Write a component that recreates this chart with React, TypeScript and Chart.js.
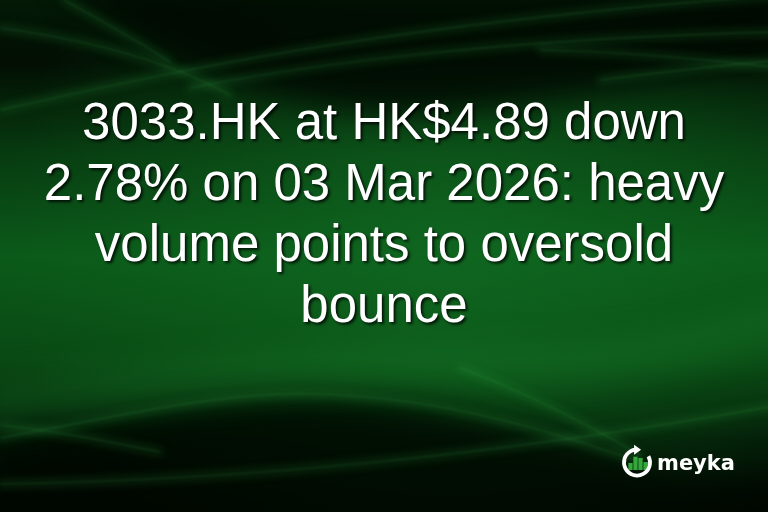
import { useEffect, useRef } from "react";
import {
    Chart,
    BarController,
    BarElement,
    CategoryScale,
    LinearScale,
    type ChartConfiguration,
    type Plugin,
} from "chart.js";

Chart.register(BarController, BarElement, CategoryScale, LinearScale);

// headline, one entry per rendered line
const titleLines = [
    "3033.HK at HK$4.89 down",
    "2.78% on 03 Mar 2026: heavy",
    "volume points to oversold",
    "bounce",
];

// little bars inside the logo ring
const logoBarLabels = ["b1", "b2", "b3", "b4"];
const logoBarValues = [0.5, 0.95, 0.86, 0.57];

const brandName = "meyka";

const W = 768;
const H = 512;

const curve = (ctx: CanvasRenderingContext2D, s: number[]) => {
    ctx.beginPath();
    ctx.moveTo(s[0], s[1]);
    for (let i = 2; i + 5 < s.length; i += 6) {
        ctx.bezierCurveTo(s[i], s[i + 1], s[i + 2], s[i + 3], s[i + 4], s[i + 5]);
    }
};

// green backdrop with soft swooshes
const drawBackdrop = (ctx: CanvasRenderingContext2D) => {
    const base = ctx.createLinearGradient(0, 0, 0, H);
    base.addColorStop(0, "#031a06");
    base.addColorStop(0.12, "#020e03");
    base.addColorStop(0.3, "#073b10");
    base.addColorStop(0.5, "#0b5a1a");
    base.addColorStop(0.7, "#094913");
    base.addColorStop(0.86, "#031806");
    base.addColorStop(1, "#010701");
    ctx.fillStyle = base;
    ctx.fillRect(0, 0, W, H);

    const glow = ctx.createRadialGradient(450, 240, 10, 450, 240, 440);
    glow.addColorStop(0, "rgba(18,112,36,0.55)");
    glow.addColorStop(1, "rgba(18,112,36,0)");
    ctx.fillStyle = glow;
    ctx.fillRect(0, 0, W, H);

    ctx.save();
    ctx.filter = "blur(16px)";
    // dark top swoosh
    ctx.fillStyle = "rgba(0,5,0,0.8)";
    curve(ctx, [60, -20, 150, 60, 300, 125, 450, 112, 560, 102, 680, 72, 790, 62]);
    ctx.lineTo(790, -20);
    ctx.closePath();
    ctx.fill();
    // dark bottom hump
    ctx.fillStyle = "rgba(0,6,0,0.8)";
    curve(ctx, [-20, 452, 120, 418, 220, 394, 310, 396, 420, 398, 520, 425, 640, 462, 700, 480, 760, 478, 790, 470]);
    ctx.lineTo(790, 540);
    ctx.lineTo(-20, 540);
    ctx.closePath();
    ctx.fill();
    // brighter band above the hump
    ctx.strokeStyle = "rgba(25,130,45,0.3)";
    ctx.lineWidth = 36;
    curve(ctx, [-20, 405, 150, 385, 320, 360, 500, 365, 620, 370, 700, 340, 790, 320]);
    ctx.stroke();
    ctx.restore();

    const streaks: number[][] = [
        [0, 110, 180, 70, 380, 25, 780, -5],
        [0, 28, 90, 40, 170, 62, 230, 95],
        [64, 0, 100, 20, 140, 42, 170, 62],
        [190, 88, 320, 62, 520, 38, 780, 32],
        [540, 50, 620, 52, 700, 58, 780, 68],
        [600, 80, 660, 72, 720, 66, 780, 60],
        [0, 438, 120, 416, 220, 392, 310, 394, 420, 396, 520, 420, 640, 462],
        [0, 484, 250, 480, 500, 455, 780, 405],
        [0, 425, 50, 430, 100, 440, 160, 452],
        [460, 368, 520, 390, 580, 420, 640, 455],
    ];
    ctx.save();
    ctx.lineCap = "round";
    streaks.forEach((s) => {
        ctx.filter = "blur(4px)";
        ctx.strokeStyle = "rgba(50,170,70,0.2)";
        ctx.lineWidth = 7;
        curve(ctx, s);
        ctx.stroke();
        ctx.filter = "blur(0.8px)";
        ctx.strokeStyle = "rgba(80,200,100,0.16)";
        ctx.lineWidth = 1.2;
        ctx.stroke();
    });
    ctx.restore();
};

const drawHeadline = (ctx: CanvasRenderingContext2D) => {
    ctx.save();
    ctx.font = '51px "Liberation Sans", Arial, sans-serif';
    ctx.textAlign = "center";
    ctx.textBaseline = "alphabetic";
    ctx.fillStyle = "#ffffff";
    ctx.shadowColor = "rgba(0,0,0,0.8)";
    ctx.shadowOffsetX = 2;
    ctx.shadowOffsetY = 2;
    ctx.shadowBlur = 3;
    titleLines.forEach((line, i) => {
        ctx.fillText(line, 384, 139 + i * 61);
    });
    ctx.restore();
};

const drawLogo = (ctx: CanvasRenderingContext2D) => {
    const cx = 637;
    const cy = 462.5;
    const r = 13;
    ctx.save();
    ctx.strokeStyle = "#ffffff";
    ctx.lineWidth = 3.8;
    ctx.beginPath();
    ctx.arc(cx, cy, r, -0.5, Math.PI * 2 - 1.72);
    ctx.stroke();
    // arrow head at the top of the ring
    const ax = cx + r * Math.cos(-1.72);
    const ay = cy + r * Math.sin(-1.72);
    ctx.fillStyle = "#ffffff";
    ctx.beginPath();
    ctx.moveTo(ax + 6, ay);
    ctx.lineTo(ax - 1, ay - 5);
    ctx.lineTo(ax - 1, ay + 5);
    ctx.closePath();
    ctx.fill();

    ctx.font = 'bold 21px "DejaVu Sans", Verdana, sans-serif';
    ctx.textAlign = "left";
    ctx.textBaseline = "alphabetic";
    ctx.fillText(brandName, 657, 470);
    ctx.restore();
};

const bannerPlugin: Plugin<"bar"> = {
    id: "bannerPlugin",
    beforeDraw: (chart) => {
        drawBackdrop(chart.ctx);
    },
    afterDraw: (chart) => {
        drawLogo(chart.ctx);
        drawHeadline(chart.ctx);
    },
};

const App = () => {
    const canvasRef = useRef<HTMLCanvasElement>(null);

    useEffect(() => {
        document.body.style.margin = "0";
        if (!canvasRef.current) return;

        const config: ChartConfiguration<"bar"> = {
            type: "bar",
            data: {
                labels: logoBarLabels,
                datasets: [
                    {
                        data: logoBarValues,
                        backgroundColor: "#35a83d",
                        borderWidth: 0,
                        categoryPercentage: 1,
                        barPercentage: 0.86,
                    },
                ],
            },
            options: {
                responsive: false,
                animation: false,
                devicePixelRatio: 1,
                events: [],
                layout: {
                    // the chart area is the inside of the logo ring
                    padding: { left: 628, right: W - 648, top: 456, bottom: H - 470 },
                },
                plugins: {
                    legend: { display: false },
                    tooltip: { enabled: false },
                },
                scales: {
                    x: { display: false },
                    y: { display: false, min: 0, max: 1 },
                },
            },
            plugins: [bannerPlugin],
        };

        const chart = new Chart(canvasRef.current, config);
        return () => {
            chart.destroy();
        };
    }, []);

    return (
        <div style={{ width: W, height: H }}>
            <canvas ref={canvasRef} width={W} height={H} style={{ display: "block" }} />
        </div>
    );
};

export default App;
